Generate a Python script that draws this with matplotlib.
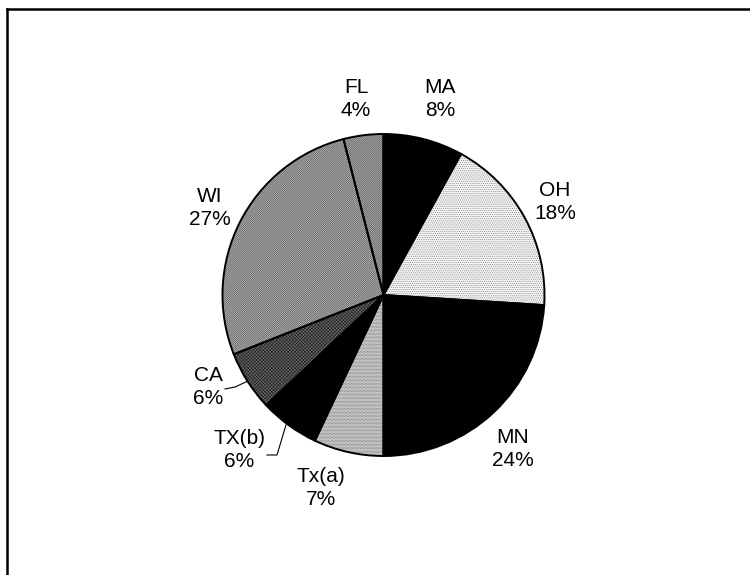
import matplotlib
matplotlib.use("Agg")
import matplotlib.pyplot as plt

# ---- data ----
states = ["MA", "OH", "MN", "Tx(a)", "TX(b)", "CA", "WI", "FL"]
shares = [8, 18, 24, 7, 6, 6, 27, 4]

# ---- styles (per slice) ----
faces = ["#000000", "#f4f4f4", "#000000", "#d8d8d8", "#000000", "#6a6a6a", "#bababa", "#b4b4b4"]
hatches = [None, "." * 8, None, "." * 12, None, "x" * 10, "/" * 16, "/" * 16]
hatch_cols = ["#000000", "#808080", "#000000", "#606060", "#000000", "#1a1a1a", "#444444", "#444444"]

# label centres in pixel coords (x, y from top)
label_pos = [(440, 99), (555, 202), (513, 449), (321, 488),
             (239, 450), (208, 387), (210, 208), (356, 99)]

W, H = 750, 575
plt.rcParams['font.family'] = ['Liberation Sans', 'DejaVu Sans']
plt.rcParams['hatch.linewidth'] = 0.4

fig = plt.figure(figsize=(7.5, 5.75), dpi=100)
ax = fig.add_axes([0, 0, 1, 1])

cx, cy, r = 383.5, H - 295, 161

# fill + hatch layer
wedges, _ = ax.pie(shares, startangle=90, counterclock=False,
                   center=(cx, cy), radius=r, frame=True,
                   wedgeprops=dict(linewidth=0))
for w, fc, h, hc in zip(wedges, faces, hatches, hatch_cols):
    w.set_facecolor(fc)
    w.set_edgecolor(hc)
    w.set_linewidth(0)
    if h:
        w.set_hatch(h)

# outline layer
ax.pie(shares, startangle=90, counterclock=False,
       center=(cx, cy), radius=r, frame=True,
       wedgeprops=dict(facecolor='none', edgecolor='black', linewidth=1.4))
ax.set_xlim(0, W)
ax.set_ylim(0, H)
ax.set_aspect('equal')
ax.axis('off')

for name, val, (lx, ly) in zip(states, shares, label_pos):
    ax.text(lx, H - ly, f"{name}\n{val}%", ha='center', va='center',
            fontsize=15, linespacing=1.3, color='black')

# leader lines for CA and TX(b)
ax.plot([225, 235, 248], [H - 389, H - 387, H - 381], color='black', lw=0.8)
ax.plot([267, 277, 286], [H - 455, H - 455, H - 425], color='black', lw=0.8)

# frame (left and top edges)
ax.plot([7, 7], [0, H - 9], color='black', lw=1.8, solid_capstyle='projecting')
ax.plot([7, W], [H - 9, H - 9], color='black', lw=1.8, solid_capstyle='projecting')

fig.savefig("out.png", dpi=100)
